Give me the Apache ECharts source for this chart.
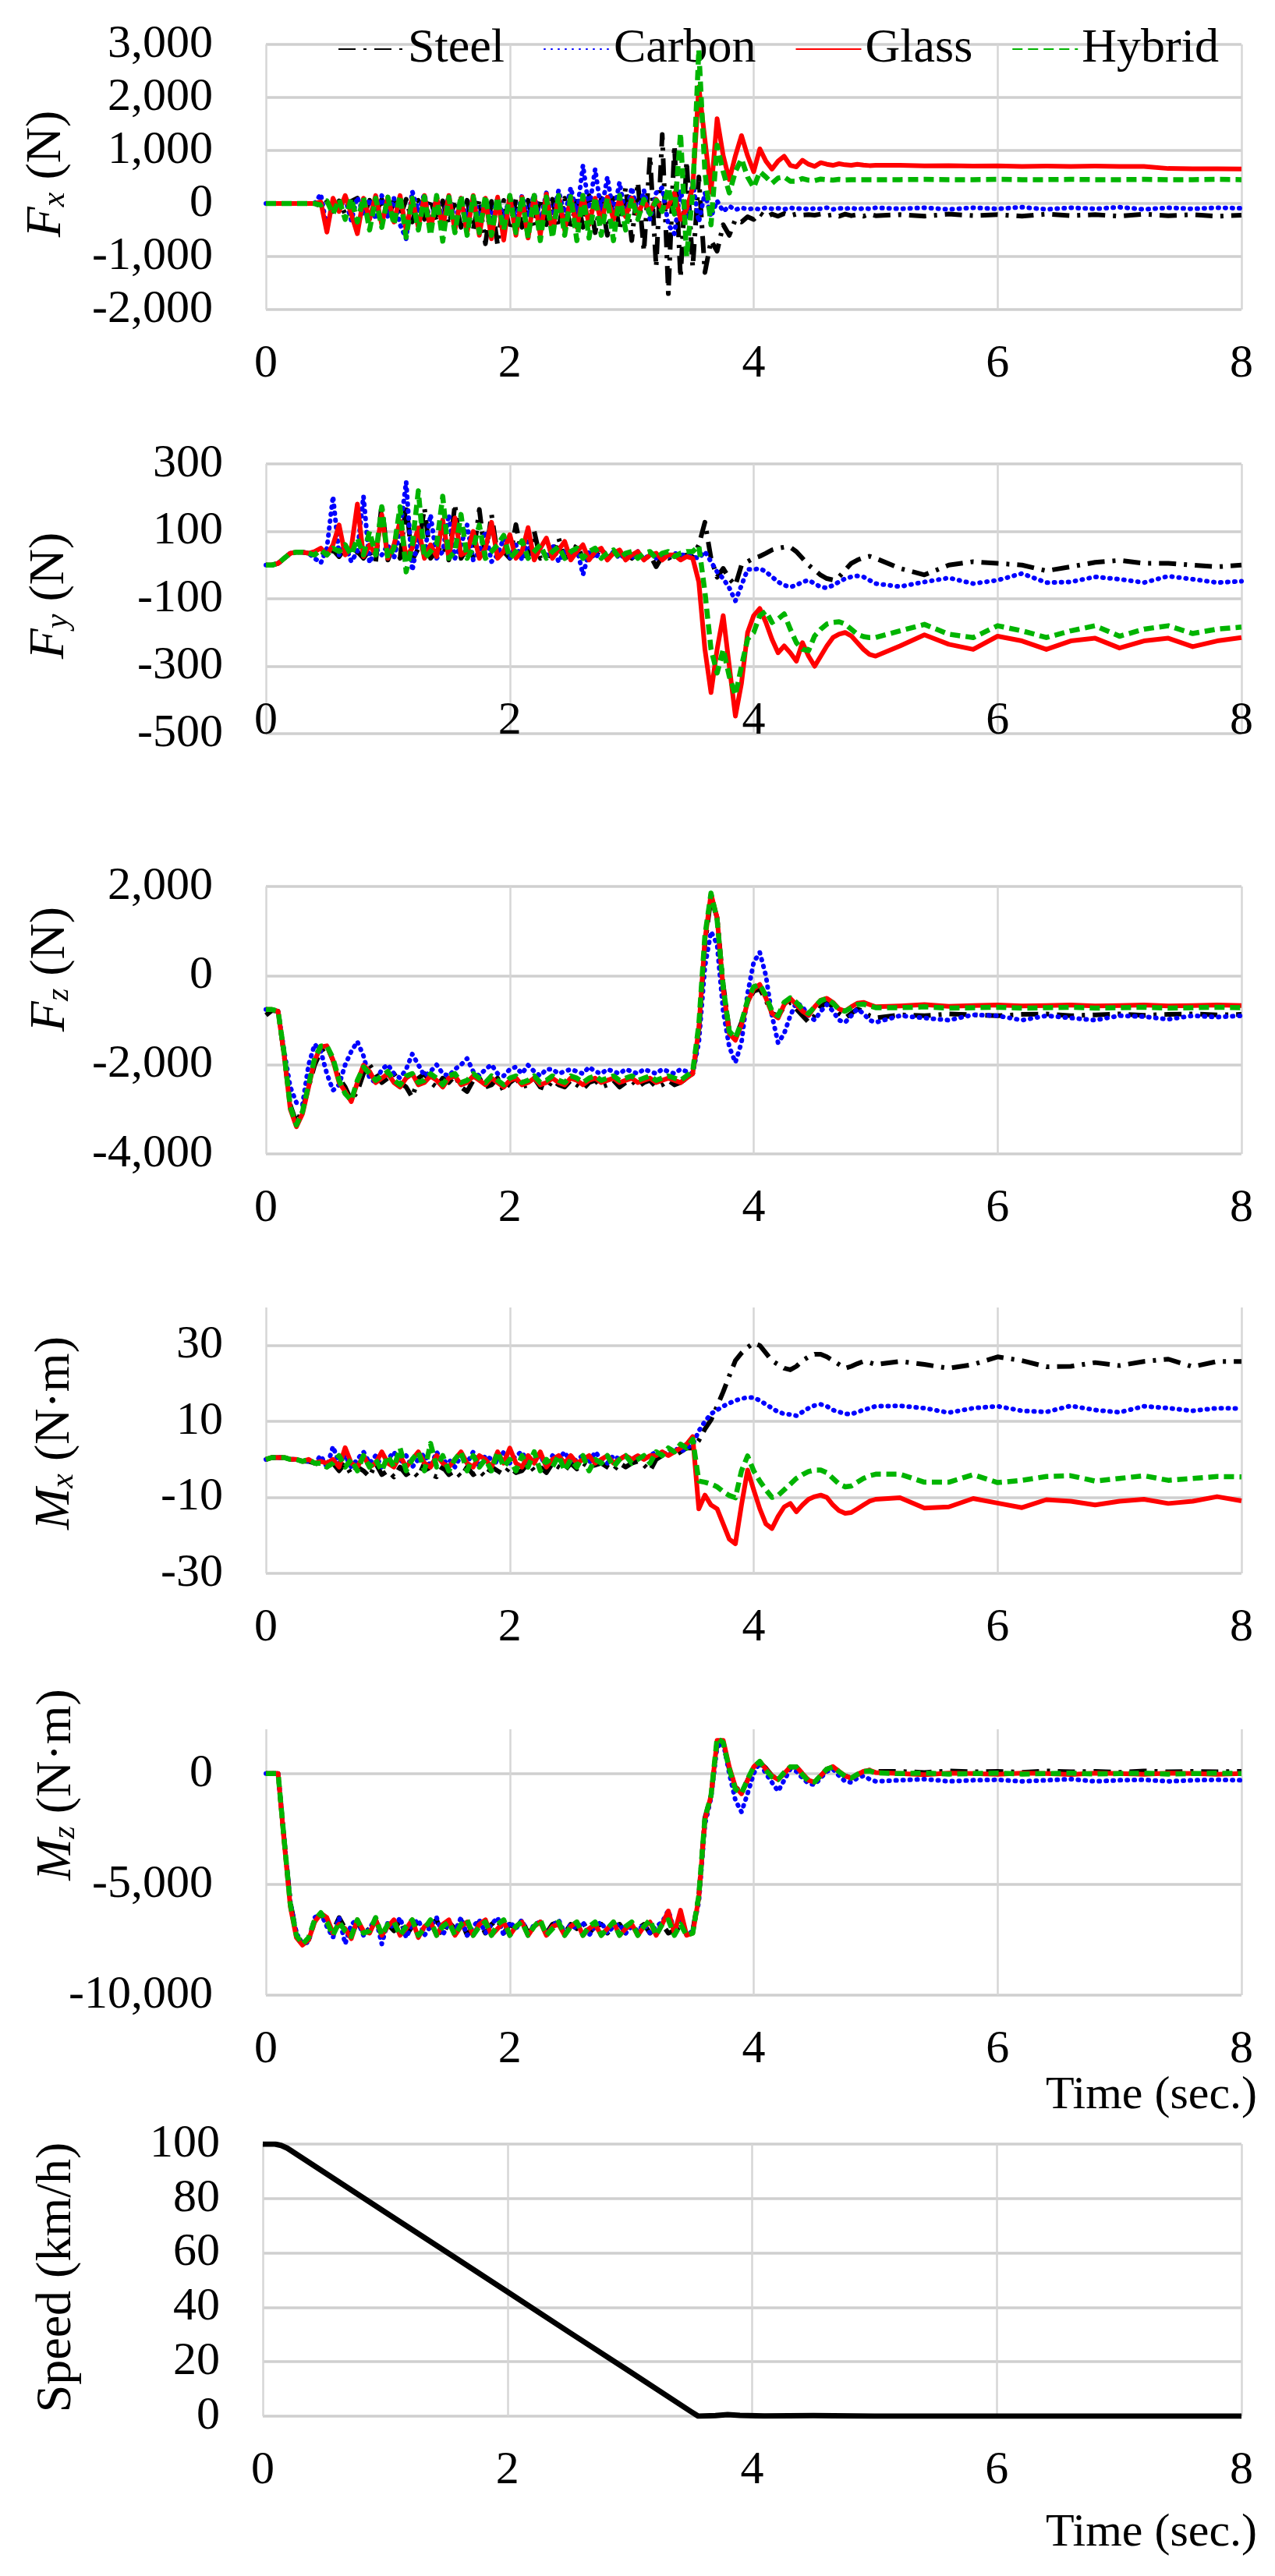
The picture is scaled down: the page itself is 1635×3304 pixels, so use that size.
<!DOCTYPE html>
<html>
<head>
<meta charset="utf-8">
<script src="https://cdn.jsdelivr.net/npm/echarts@6/dist/echarts.min.js"></script>
<style>
html,body{margin:0;padding:0;background:#fff;font-family:"Liberation Serif",serif;}
#c{width:1635px;height:3304px;}
</style>
</head>
<body>
<div id="c"></div>
<script>
// ---------------- DATA ----------------
const T = [0,0.05,0.1,0.15,0.2,0.25,0.3,0.35,0.4,0.45,
0.5,0.55,0.6,0.65,0.7,0.75,0.8,0.85,0.9,0.95,
1,1.05,1.1,1.15,1.2,1.25,1.3,1.35,1.4,1.45,
1.5,1.55,1.6,1.65,1.7,1.75,1.8,1.85,1.9,1.95,
2,2.05,2.1,2.15,2.2,2.25,2.3,2.35,2.4,2.45,
2.5,2.55,2.6,2.65,2.7,2.75,2.8,2.85,2.9,2.95,
3,3.05,3.1,3.15,3.2,3.25,3.3,3.35,3.4,3.45,
3.5,3.55,3.6,3.65,3.7,3.75,3.8,3.85,3.9,3.95,
4,4.05,4.1,4.15,4.2,4.25,4.3,4.35,4.4,4.45,
4.5,4.55,4.6,4.65,4.7,4.75,4.8,4.85,4.9,4.95,5,
5.2,5.4,5.6,5.8,6,6.2,6.4,6.6,6.8,7,7.2,7.4,7.6,7.8,8];

const SERIES_NAMES = ['Steel','Carbon','Glass','Hybrid'];
const X_TICKS = [0,2,4,6,8];

// Fx (N)
const fxSteel = [0,0,0,0,0,0,0,0,0,-50,
30,-150,50,-200,40,100,-250,60,-200,80,
-300,50,-250,80,-350,60,-300,90,-350,50,
-400,70,-450,60,-500,80,-760,40,-780,60,
-500,80,-450,60,-420,100,-400,80,-450,100,
-500,120,-450,150,-550,100,-600,200,-500,300,
-700,400,-900,900,-1200,1300,-1700,1100,-1400,800,
-1200,500,-1300,-700,-900,-400,-600,-300,-350,-250,
-300,-180,-260,-200,-240,-190,-230,-200,-220,-210,
-220,-200,-230,-210,-240,-200,-230,-210,-240,-200,-230,
-210,-240,-200,-230,-210,-240,-200,-230,-210,-240,-200,-230,-210,-240,-220];
const fxCarbon = [0,0,0,0,0,0,0,0,0,180,
-470,60,-100,100,-325,120,-200,80,-300,150,
-250,100,-400,-665,230,-150,180,-400,120,-300,
150,-350,100,-300,120,-250,80,-300,100,-280,
120,-300,150,-250,180,-350,200,-300,250,-250,
300,-200,720,-100,650,-150,500,-200,400,-250,
300,-200,250,-300,200,300,-400,-570,250,-300,
400,-350,200,-250,50,-150,-50,-120,-80,-110,
-90,-110,-80,-100,-90,-110,-80,-100,-90,-110,
-90,-100,-80,-110,-90,-100,-80,-110,-90,-100,-80,
-100,-80,-110,-80,-100,-70,-110,-80,-100,-70,-110,-80,-100,-80,-90];
const fxGlass = [0,0,0,0,0,0,0,0,0,30,
-540,100,-150,150,-200,-570,100,-300,150,-400,
120,-350,150,-500,100,-450,150,-500,120,-450,
150,-500,100,-550,150,-600,100,-665,120,-690,
150,-600,120,-650,150,-600,180,-550,150,-500,
120,-450,150,-400,100,-350,120,-300,80,-250,
100,-200,50,-150,80,-100,-50,200,-300,-100,
300,2200,1200,210,1600,900,450,900,1280,900,
600,1030,800,650,800,890,720,690,815,740,
700,770,740,720,750,730,720,740,725,715,720,
720,710,715,705,710,700,705,700,705,700,700,660,655,655,650];
const fxHybrid = [0,0,0,0,0,0,0,0,0,-30,
50,-200,80,-300,100,-350,120,-500,100,-450,
120,-400,150,-640,100,-500,130,-600,150,-710,
120,-550,150,-600,130,-550,150,-600,120,-500,
150,-550,130,-650,150,-700,120,-650,150,-600,
130,-700,150,-650,120,-600,100,-700,150,-500,
100,-300,80,-200,60,-150,300,-200,1325,-1000,
200,2900,600,-400,1100,600,200,600,840,500,
300,600,500,380,480,500,420,420,470,440,
430,460,450,440,455,445,450,450,450,450,450,
450,455,450,450,455,450,450,455,450,450,455,450,450,455,450];

// Fy (N)
const fySteel = [0,0,5,20,35,38,38,35,30,40,
30,45,25,50,30,40,20,45,10,181,
15,60,20,181,15,50,170,20,40,60,
15,181,20,50,25,165,20,150,30,40,
20,120,30,25,100,20,30,25,80,20,
30,60,20,35,25,50,20,35,25,40,
20,35,15,30,-5,25,20,30,25,30,
25,60,127,20,-36,-10,-40,-60,0,10,
20,26,35,45,50,53,53,40,20,0,
-15,-30,-40,-44,-35,-15,5,15,22,26,20,
-10,-29,0,10,5,0,-17,-5,8,14,5,5,0,-5,0];
const fyCarbon = [0,0,5,20,35,38,38,35,20,6,
50,204,30,60,10,40,204,6,50,30,
60,20,100,247,-17,80,30,150,20,40,
150,20,60,119,15,40,100,10,30,80,
20,60,15,70,20,50,25,60,10,40,
20,50,-29,40,20,45,15,40,20,35,
20,40,15,35,20,30,25,35,30,30,
25,20,40,10,-20,-40,-68,-106,-60,-13,
-13,-10,-20,-35,-50,-60,-65,-60,-50,-45,
-55,-65,-68,-60,-50,-40,-35,-32,-35,-45,-55,
-64,-50,-38,-55,-45,-25,-52,-50,-35,-42,-52,-33,-42,-52,-48];
const fyGlass = [0,0,5,20,35,38,38,35,40,50,
30,60,119,30,50,181,25,60,30,150,
20,60,130,25,50,110,20,60,25,134,
20,140,30,40,100,20,50,127,20,40,
90,20,40,111,15,50,80,20,45,70,
15,40,60,15,40,50,15,35,45,15,
30,40,15,30,35,15,30,30,15,25,
20,-50,-250,-378,-250,-150,-300,-448,-350,-200,
-150,-129,-170,-220,-260,-240,-260,-285,-230,-270,
-300,-270,-240,-215,-205,-200,-210,-230,-250,-265,-270,
-240,-207,-235,-250,-211,-225,-250,-225,-217,-246,-225,-217,-242,-225,-215];
const fyHybrid = [0,0,5,20,35,38,38,35,30,45,
30,50,40,60,30,80,30,100,30,173,
20,50,173,-20,60,220,20,40,60,204,
20,40,150,20,50,119,20,40,60,88,
20,40,72,20,40,60,20,40,55,20,
40,50,20,40,50,20,35,45,20,35,
40,20,35,40,20,35,40,25,35,40,
40,57,-80,-250,-320,-250,-330,-386,-300,-220,
-200,-150,-137,-170,-160,-145,-190,-230,-250,-254,
-210,-190,-175,-170,-168,-175,-190,-205,-212,-215,-215,
-195,-176,-205,-215,-180,-195,-215,-195,-180,-211,-190,-180,-203,-190,-184];

// Fz (N)
const fzSteel = [-890,-780,-800,-1800,-2900,-3300,-3000,-2500,-2000,-1700,
-1580,-1900,-2300,-2500,-2800,-2600,-2200,-2000,-2200,-2400,
-2300,-2200,-2400,-2500,-2730,-2300,-2200,-2400,-2500,-2300,
-2400,-2250,-2500,-2600,-2350,-2300,-2500,-2450,-2300,-2600,
-2400,-2300,-2500,-2450,-2300,-2500,-2550,-2350,-2450,-2500,
-2350,-2450,-2550,-2400,-2350,-2500,-2450,-2350,-2500,-2400,
-2350,-2500,-2400,-2350,-2500,-2450,-2350,-2450,-2400,-2300,
-2200,-1300,700,1750,1300,-200,-1250,-1400,-1050,-600,
-350,-300,-550,-850,-900,-700,-600,-750,-900,-1045,
-900,-700,-600,-700,-850,-950,-850,-750,-800,-900,-950,
-880,-900,-860,-880,-900,-870,-860,-900,-880,-860,-890,-870,-860,-880,-870];
const fzCarbon = [-760,-760,-800,-1700,-2500,-2850,-2890,-2000,-1540,-1700,
-2200,-2575,-2450,-2000,-1700,-1480,-1800,-2300,-2400,-2100,
-2000,-2200,-2300,-2100,-1760,-2000,-2250,-2150,-2000,-2200,
-2250,-2100,-2000,-1860,-2150,-2250,-2100,-2000,-2200,-2250,
-2100,-2050,-2200,-2010,-2150,-2250,-2100,-2100,-2200,-2150,
-2100,-2150,-2200,-2050,-2150,-2200,-2100,-2150,-2200,-2100,
-2150,-2200,-2100,-2150,-2200,-2100,-2150,-2200,-2100,-2150,
-2200,-1500,200,990,700,-800,-1600,-1950,-1500,-400,
300,520,0,-900,-1510,-1300,-900,-600,-700,-900,
-1000,-800,-650,-800,-1000,-1050,-900,-750,-850,-1000,-1050,
-900,-950,-1000,-880,-900,-1000,-900,-950,-1000,-900,-920,-980,-900,-930,-900];
const fzGlass = [-760,-760,-800,-1800,-3000,-3390,-3100,-2500,-1900,-1600,
-1575,-1900,-2400,-2600,-2825,-2400,-2010,-2150,-2400,-2300,
-2200,-2400,-2500,-2300,-2200,-2450,-2400,-2250,-2350,-2500,
-2300,-2250,-2450,-2400,-2250,-2350,-2450,-2300,-2400,-2500,
-2350,-2300,-2450,-2400,-2300,-2450,-2400,-2300,-2400,-2450,
-2300,-2350,-2450,-2350,-2300,-2400,-2350,-2300,-2400,-2350,
-2300,-2400,-2350,-2300,-2400,-2350,-2300,-2350,-2400,-2300,
-2200,-1200,800,1830,1300,-300,-1300,-1450,-1100,-600,
-300,-200,-500,-850,-950,-650,-512,-650,-800,-890,
-700,-550,-510,-600,-750,-795,-700,-620,-600,-650,-700,
-680,-650,-690,-670,-660,-680,-670,-660,-680,-670,-660,-680,-670,-660,-670];
const fzHybrid = [-760,-760,-800,-1750,-2950,-3350,-3050,-2450,-1850,-1580,
-1575,-1850,-2350,-2650,-2800,-2350,-2050,-2200,-2350,-2250,
-2150,-2350,-2450,-2250,-2200,-2400,-2350,-2200,-2300,-2450,
-2250,-2200,-2400,-2350,-2200,-2300,-2400,-2250,-2350,-2450,
-2300,-2250,-2400,-2350,-2250,-2400,-2350,-2250,-2350,-2400,
-2250,-2300,-2400,-2300,-2250,-2350,-2300,-2250,-2350,-2300,
-2250,-2350,-2300,-2250,-2350,-2300,-2250,-2300,-2350,-2250,
-2150,-1100,900,1850,1250,-250,-1250,-1400,-1050,-550,
-250,-200,-450,-800,-900,-600,-500,-600,-750,-850,
-700,-560,-520,-620,-760,-800,-720,-650,-640,-680,-720,
-720,-700,-730,-720,-710,-730,-720,-710,-730,-720,-710,-730,-720,-710,-720];

// Mx (N·m)
const mxSteel = [0,0.5,0.5,0.5,0,0,-0.5,-0.5,-1,-1.5,
-2,-1,-3,-1,-4,-2,-3,-4.6,-1,-4,
-3,-4.6,-2,-4,-3,-4.6,-1,-4,-4.6,-2,
-4,-3,-4.6,-2,-4,-3,-4.6,-2,-3,-4,
-2,-3.5,-3,-1,-3,-2,-3.5,-1,-2,-3,
-1,-2.5,-1,-2,-1.5,-1,-2,-3,-1,-2,
-1,-0.5,-1.5,-3,0,1,2,1,2,3,
3,5,8,10.4,14,17.8,22,26,28,29.5,
30.6,30,28,26,25,24,23.6,24.5,26,27,
27.7,27.7,27,26,25,24,24.5,25.2,25.8,25.5,25,
25.8,25,24,25,27,26,24.4,24.5,25.5,24.7,25.8,26.4,24.4,25.8,25.8];
const mxCarbon = [0,0.5,0.5,0.5,0,0,-0.5,-0.5,-1,1,
-2,3.4,-1,1,-2,0,2,-1,1,-2,
0,2,-1,1,-2,0,1.5,-2,2,-1,
0,-2,1,-1,2,-2,1,0,-1,2,
-1,1,2,-1,0,1,-2,1,0,2,
-1,0,1,-1,2,0,-1,1,0,1,
0,1,0,1,2,1,2,3,2,3,
4,7.5,10,12,13,14,14.8,15.5,16,16.3,
16.3,15.5,14.5,13.5,12.5,12,11.8,11.5,12.5,13.5,
14.2,14.5,14,13,12.5,12,11.9,12.5,13,13.5,14,
14.1,13.5,12.3,13.5,14,12.8,12.5,14.1,13,12.4,14,13.5,12.8,13.5,13.4];
const mxGlass = [0,0.5,0.5,0.5,0,0,-0.5,0,-1,-0.5,
-1,0,-2,3.1,-1,-2,1,-2,-1,2,
-1,-2,1,-2,0,2,-1,-2,1,-1,
-2,0,2,-1,-2,1,0,-2,2,-1,
3,-1,-2,1,-1,2,-2,0,1,-1,
1,-1,0,1,-1,0,1,-1,0,1,
0,1,0,1,1,2,1,2,3,4,
6,-13,-9.4,-12,-13,-17,-21,-22.2,-12,-2.8,
-8,-13,-17,-18.2,-15,-12.5,-11.6,-13.8,-12,-10.5,
-9.8,-9.4,-10,-12,-13.5,-14.2,-14,-13,-12,-11,-10.5,
-10.1,-12.8,-12.5,-10.3,-11.5,-12.7,-10.6,-11,-12,-11,-10.5,-11.6,-11,-9.8,-10.9];
const mxHybrid = [0,0.5,0.5,0.5,0,0,-0.5,0,-1,-1,
-2,-1,1,-2,0,-3,1,-2,0,-3,
1,-2,3,-3,0,2,-3,4.2,-2,1,
-3,0,2,-3,1,-2,0,-3,2,-2,
0,-3,1,-2,2,-3,0,-2,1,-3,
0,-2,1,-3,0,-1,1,-2,0,1,
-1,0,1,-1,2,1,3,2,4,3,
5.3,-5.7,-6,-6.5,-7.2,-8.5,-9.5,-10.1,-3,0.9,
-3,-5.7,-8,-10,-9.5,-8,-6.5,-5,-4,-3.2,
-2.8,-2.8,-3.5,-5,-6.5,-7.2,-7,-6,-5,-4.3,-3.9,
-3.9,-6,-6,-4,-6.1,-5.5,-4.5,-4.3,-5.7,-5,-4.3,-5.5,-5,-4.5,-4.6];

// Mz (N·m)
const mzSteel = [0,0,0,-3000,-5800,-7200,-7700,-7500,-6700,-6300,
-6800,-7100,-6500,-7000,-7300,-6700,-7200,-7000,-6600,-7300,
-6800,-7100,-6600,-7300,-6900,-6700,-7200,-6800,-6600,-7300,
-6700,-7000,-6600,-7300,-6900,-6700,-7200,-6800,-6600,-7200,
-6800,-7000,-6600,-7200,-6900,-6700,-7200,-6800,-6700,-7200,
-6800,-7000,-6700,-7200,-6900,-6800,-7200,-6900,-6800,-7200,
-6900,-7000,-6800,-7200,-6900,-6800,-7200,-7100,-6900,-7200,
-7100,-5500,-2000,-1000,1400,1300,200,-600,-850,-300,
300,500,250,-100,-250,0,300,300,0,-300,
-350,-100,200,300,100,-100,-200,-50,100,150,100,
100,50,120,80,100,60,120,80,100,60,120,80,100,80,100];
const mzCarbon = [0,0,0,-3000,-5800,-7200,-7700,-7600,-6500,-6300,
-6900,-7400,-6500,-7690,-6800,-6600,-7300,-7000,-6500,-7690,
-6700,-7000,-6500,-7400,-6800,-6600,-7300,-6900,-6500,-7300,
-6700,-7100,-6500,-7300,-6900,-6600,-7200,-6800,-6500,-7300,
-6700,-7000,-6600,-7300,-6800,-6700,-7200,-6900,-6600,-7200,
-6800,-7000,-6700,-7300,-6900,-6700,-7200,-6900,-6800,-7200,
-6900,-7100,-6800,-7200,-6900,-6700,-6170,-7100,-6500,-7300,
-7100,-5800,-2300,-1100,1200,1400,0,-1200,-1730,-900,
0,500,0,-400,-795,-300,200,100,-200,-450,
-500,-200,100,200,-100,-350,-400,-200,-100,-250,-350,
-300,-250,-350,-300,-280,-350,-300,-250,-350,-300,-280,-350,-300,-280,-300];
const mzGlass = [0,0,0,-3100,-6000,-7400,-7740,-7500,-6700,-6300,
-6500,-7200,-6800,-7000,-7450,-6600,-7100,-7200,-6600,-7300,
-6900,-6600,-7300,-7000,-6600,-7400,-6900,-6700,-7300,-6800,
-6600,-7300,-6900,-6700,-7300,-6800,-6600,-7300,-7000,-6700,
-7300,-6900,-6700,-7300,-6900,-6700,-7300,-6900,-6800,-7300,
-6900,-6700,-7300,-7000,-6800,-7300,-7000,-6700,-7300,-7000,
-6800,-7300,-6900,-6700,-7300,-6800,-6200,-7200,-6170,-7300,
-7200,-5600,-2100,-1000,1500,1500,300,-600,-910,-300,
300,550,200,-100,-270,0,300,315,0,-300,
-385,-100,200,315,100,-100,-210,-50,100,150,50,
0,-50,20,0,-30,20,0,-40,20,0,-30,20,0,-30,0];
const mzHybrid = [0,0,0,-3000,-5900,-7300,-7700,-7400,-6600,-6280,
-6700,-7300,-6700,-7100,-7350,-6600,-7200,-7100,-6500,-7300,
-6800,-6700,-7300,-6900,-6600,-7300,-7000,-6600,-7300,-6900,
-6700,-7300,-6800,-6600,-7300,-6900,-6700,-7300,-6800,-6600,
-7300,-6900,-6700,-7300,-6900,-6600,-7300,-7000,-6700,-7300,
-6900,-6700,-7300,-6900,-6700,-7300,-7000,-6700,-7300,-6900,
-6700,-7300,-6900,-6600,-7300,-6800,-6600,-7300,-6800,-7300,
-7200,-5500,-2000,-1000,1600,1400,200,-700,-900,-250,
300,550,150,-150,-270,50,300,300,-50,-350,
-380,-80,200,300,80,-120,-200,-30,100,120,30,
0,20,-20,0,20,-20,0,20,-20,0,20,-20,0,20,0];

// Speed (km/h)
const speedTime = [0,0.1,0.15,0.2,0.5,1,1.5,2,2.5,3,3.5,3.56,3.7,3.8,3.9,4.1,4.5,5,6,7,8];
const speedVals = [100,100,99.5,98.5,89.7,75,60.4,45.7,31,16.4,1.7,0,0.2,0.6,0.3,0.1,0.2,0,0,0,0];

// ---------------- STYLE / LAYOUT ----------------
const FONT = '"Liberation Serif", "Times New Roman", serif';
const COLORS = {Steel:'#000000', Carbon:'#0000ff', Glass:'#ff0000', Hybrid:'#00b400'};
const LINES = {
  Steel:  {type:[22,10,4,10], width:6, cap:'butt'},
  Carbon: {type:[1,8], width:6, cap:'round'},
  Glass:  {type:'solid', width:6, cap:'butt'},
  Hybrid: {type:[13,7], width:6.5, cap:'butt'}
};

const panels = [
  {data:[fxSteel,fxCarbon,fxGlass,fxHybrid], min:-2000, max:3000, interval:1000, top:57, height:340, left:341, lm:68, xm:40, hideMax:false},
  {data:[fySteel,fyCarbon,fyGlass,fyHybrid], min:-500, max:300, interval:200, top:595, height:346, left:341, lm:55, xm:-46, hideMax:false},
  {data:[fzSteel,fzCarbon,fzGlass,fzHybrid], min:-4000, max:2000, interval:2000, top:1137, height:343, left:341, lm:68, xm:40, hideMax:false},
  {data:[mxSteel,mxCarbon,mxGlass,mxHybrid], min:-30, max:40, interval:20, top:1677, height:341, left:341, lm:55, xm:40, hideMax:true},
  {data:[mzSteel,mzCarbon,mzGlass,mzHybrid], min:-10000, max:2000, interval:5000, top:2218, height:341, left:341, lm:68, xm:40, hideMax:true},
  {data:null, min:0, max:100, interval:20, top:2750, height:349, left:337, lm:55, xm:40, hideMax:false}
];
const RIGHT_EDGE = 1592;

const fmt = v => v.toLocaleString('en-US');
const labelStyle = {fontFamily:FONT, fontSize:60, color:'#000', fontStyle:'normal', fontWeight:'normal'};

const grids = [], xAxes = [], yAxes = [], series = [];
panels.forEach((p, k) => {
  grids.push({left:p.left, top:p.top, width:RIGHT_EDGE - p.left, height:p.height, containLabel:false});
  xAxes.push({
    type:'value', gridIndex:k, min:X_TICKS[0], max:X_TICKS[X_TICKS.length-1], interval:2,
    axisLine:{show:false}, axisTick:{show:false},
    splitLine:{show:true, lineStyle:{color:'#d6d6d6', width:2.5}},
    axisLabel:Object.assign({margin:p.xm}, labelStyle)
  });
  yAxes.push({
    type:'value', gridIndex:k, min:p.min, max:p.max, interval:p.interval,
    axisLine:{show:false}, axisTick:{show:false},
    splitLine:{show:true, showMaxLine:!p.hideMax, lineStyle:{color:'#cfcfcf', width:3.5}},
    axisLabel:Object.assign({margin:p.lm, formatter:fmt, showMaxLabel:!p.hideMax}, labelStyle)
  });
  if (p.data) {
    p.data.forEach((arr, j) => {
      const name = SERIES_NAMES[j];
      series.push({
        type:'line', name:name, xAxisIndex:k, yAxisIndex:k,
        data:T.map((t, i) => [t, arr[i]]),
        symbol:'none', showSymbol:false, silent:true, animation:false,
        z: 2 + j,
        itemStyle:{color:COLORS[name]},
        lineStyle:{color:COLORS[name], width:LINES[name].width, type:LINES[name].type, cap:LINES[name].cap, join:'round'}
      });
    });
  } else {
    series.push({
      type:'line', name:'Speed', xAxisIndex:k, yAxisIndex:k,
      data:speedTime.map((t, i) => [t, speedVals[i]]),
      symbol:'none', showSymbol:false, silent:true, animation:false,
      itemStyle:{color:'#000'},
      lineStyle:{color:'#000', width:7, join:'round'}
    });
  }
});

// axis titles (rotated)
const richBase = {
  i:{fontFamily:FONT, fontSize:64, fontStyle:'italic', lineHeight:64, fill:'#000', color:'#000'},
  s:{fontFamily:FONT, fontSize:42, fontStyle:'italic', lineHeight:34, verticalAlign:'bottom', fill:'#000', color:'#000'},
  r:{fontFamily:FONT, fontSize:64, lineHeight:64, fill:'#000', color:'#000'}
};
const titles = [
  {x:60, y:223, text:'{i|F}{s|x}{r| (N)}'},
  {x:64, y:764, text:'{i|F}{s|y}{r| (N)}'},
  {x:65, y:1243, text:'{i|F}{s|z}{r| (N)}'},
  {x:71, y:1838, text:'{i|M}{s|x}{r| (N·m)}'},
  {x:73, y:2289, text:'{i|M}{s|z}{r| (N·m)}'},
  {x:73, y:2921, text:'{r|Speed (km/h)}'}
];
const graphics = titles.map(t => ({
  type:'text', x:t.x, y:t.y, rotation:Math.PI/2, silent:true,
  style:{text:t.text, rich:richBase, align:'center', verticalAlign:'middle', fill:'#000', font:'64px "Liberation Serif"'}
}));
[2688, 3249].forEach(yy => graphics.push({
  type:'text', x:1612, y:yy, silent:true,
  style:{text:'Time (sec.)', align:'right', verticalAlign:'middle', fill:'#000', font:'60px "Liberation Serif"'}
}));

const chart = echarts.init(document.getElementById('c'), null, {renderer:'canvas', width:1635, height:3304});
chart.setOption({
  animation:false,
  backgroundColor:'#ffffff',
  textStyle:{fontFamily:FONT, color:'#000'},
  legend:{
    data:SERIES_NAMES, left:428, top:27, itemWidth:84, itemHeight:24, itemGap:50,
    itemStyle:{opacity:0},
    textStyle:{fontFamily:FONT, fontSize:62, color:'#000', fontWeight:'normal'},
    selectedMode:false
  },
  grid:grids, xAxis:xAxes, yAxis:yAxes, series:series, graphic:graphics
});
</script>
</body>
</html>
